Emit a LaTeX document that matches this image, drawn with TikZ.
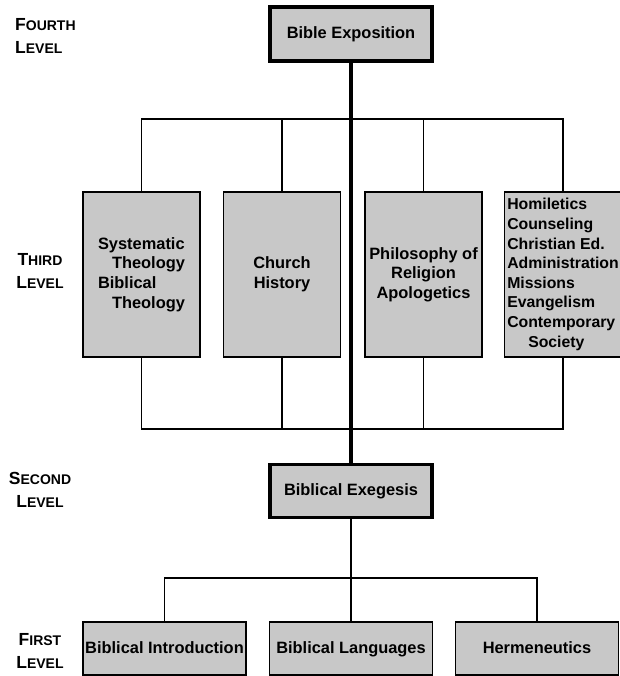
\documentclass[tikz,border=0pt]{standalone}
\usepackage{fontspec}
\setmainfont{Liberation Sans}
\definecolor{boxgray}{RGB}{200,200,200}
\newcommand{\capfirst}[2]{{\fontsize{17.5}{23}\selectfont #1}{\fontsize{14}{23}\selectfont #2}}

\begin{document}
\begin{tikzpicture}[x=1pt,y=-1pt]

\tikzset{box/.style = {draw, line width=1.4pt, fill=boxgray, inner sep=0pt, font=\fontsize{16.4}{19.6}\selectfont\bfseries}}
\tikzset{oneline/.style = {text height=1.1em, text depth=0.14em}}
\tikzset{topbox/.style = {box, oneline, line width=3.2pt, minimum width=162pt}}
\tikzset{tall/.style = {box, minimum width=117pt, minimum height=165pt}}
\tikzset{low/.style = {box, oneline, minimum width=163pt, minimum height=53pt}}
\tikzset{level/.style = {align=center, inner sep=0pt, font=\fontsize{14}{23}\selectfont\bfseries}}
\tikzset{edge/.style = {line width=1.3pt}}

\useasboundingbox (0,0) rectangle (619,676);

%levels
\node[level, anchor=west, align=left] (l4) at (15,36) {\capfirst{F}{OURTH}\\\capfirst{L}{EVEL}};
\node[level] (l3) at (40,271) {\capfirst{T}{HIRD}\\\capfirst{L}{EVEL}};
\node[level] (l2) at (40,490) {\capfirst{S}{ECOND}\\\capfirst{L}{EVEL}};
\node[level] (l1) at (40,651) {\capfirst{F}{IRST}\\\capfirst{L}{EVEL}};

%boxes
\node[topbox, minimum height=54pt] (expo) at (351,34) {Bible Exposition};
\node[tall, align=left] (t1) at (141.5,274.5) {Systematic\\\hspace*{14pt}Theology\\Biblical\\\hspace*{14pt}Theology};
\node[tall, align=center] (t2) at (282,274.5) {Church\\History};
\node[tall, align=center] (t3) at (423.5,274.5) {Philosophy of\\Religion\\Apologetics};
\node[tall, align=left, font=\fontsize{15.8}{19.6}\selectfont\bfseries] (t4) at (563,274.5) {Homiletics\\Counseling\\Christian Ed.\\Administration\\Missions\\Evangelism\\Contemporary\\\hspace*{21pt}Society};
\node[topbox, minimum height=53pt] (exeg) at (351,491) {Biblical Exegesis};
\node[low] (f1) at (164.5,648.5) {Biblical Introduction};
\node[low] (f2) at (351,648.5) {Biblical Languages};
\node[low] (f3) at (537,648.5) {Hermeneutics};

%bars
\coordinate (topbar) at (0,119);
\coordinate (lowbar) at (0,429);
\coordinate (basebar) at (0,578);

\draw[edge] (t1.north) |- (topbar -| t4.north) -- (t4.north);
\draw[edge] (t2.north) -- (t2.north |- topbar);
\draw[edge] (t3.north) -- (t3.north |- topbar);
\draw[edge] (t1.south) |- (lowbar -| t4.south) -- (t4.south);
\draw[edge] (t2.south) -- (t2.south |- lowbar);
\draw[edge] (t3.south) -- (t3.south |- lowbar);
\draw[line width=3.5pt] (expo.south) -- (exeg.north);
\draw[edge] (exeg.south) -- (f2.north);
\draw[edge] (f1.north) |- (basebar -| f3.north) -- (f3.north);

\end{tikzpicture}
\end{document}
